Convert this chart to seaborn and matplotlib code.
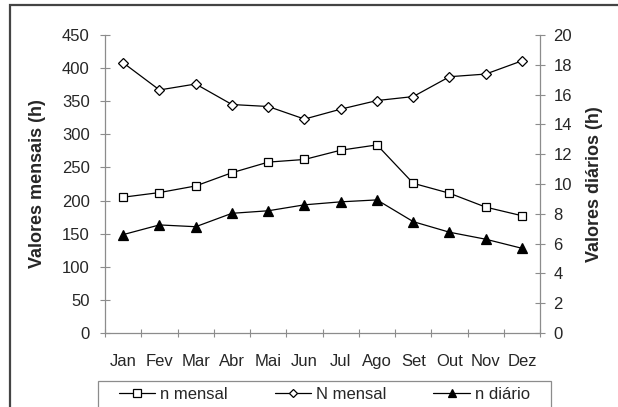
import matplotlib
matplotlib.use("Agg")
import matplotlib.pyplot as plt
import seaborn as sns
import pandas as pd
import numpy as np
from matplotlib.patches import Rectangle
from matplotlib.lines import Line2D

# Monthly sunshine data
meses = ["Jan", "Fev", "Mar", "Abr", "Mai", "Jun", "Jul", "Ago", "Set", "Out", "Nov", "Dez"]
n_mensal = [205, 212, 222, 242, 258, 262, 276, 284, 226, 211, 190, 177]
N_mensal = [408, 367, 376, 345, 342, 323, 338, 351, 357, 387, 391, 411]
n_diario = [6.6, 7.25, 7.13, 8.03, 8.2, 8.6, 8.8, 8.93, 7.47, 6.76, 6.29, 5.68]

sns.set_theme(style="white")
plt.rcParams["font.family"] = ["Liberation Sans", "DejaVu Sans"]

txt = "#262626"
axc = "#8c8c8c"
fs = 12

df = pd.DataFrame({
    "pos": np.arange(len(meses)),
    "mes": meses,
    "n_mensal": n_mensal,
    "N_mensal": N_mensal,
    "n_diario": n_diario,
})

fig = plt.figure(figsize=(6.18, 4.07), dpi=100)
ax = fig.add_axes([0.170, 0.182, 0.704, 0.732])
ax2 = ax.twinx()

line_kw = dict(color="black", linewidth=0.9, markeredgecolor="black",
               markeredgewidth=0.9)
sns.lineplot(data=df, x="pos", y="n_mensal", ax=ax, marker="s", markersize=6,
             markerfacecolor="white", **line_kw)
sns.lineplot(data=df, x="pos", y="N_mensal", ax=ax, marker="D", markersize=5,
             markerfacecolor="white", **line_kw)
sns.lineplot(data=df, x="pos", y="n_diario", ax=ax2, marker="^", markersize=7,
             markerfacecolor="black", **line_kw)

# Scales
ax.set_xlim(-0.5, len(meses) - 0.5)
ax.set_ylim(0, 450)
ax.set_yticks(np.arange(0, 451, 50))
ax2.set_ylim(0, 20)
ax2.set_yticks(np.arange(0, 21, 2))

# Category ticks between months, labels centred under each month
ax.set_xticks(np.arange(-0.5, len(meses), 1.0))
ax.set_xticklabels([])
ax.set_xticks(df["pos"], minor=True)
ax.set_xticklabels(meses, minor=True, fontsize=fs, color=txt)
ax.tick_params(axis="x", which="major", direction="inout", length=6,
               width=0.8, color=axc, bottom=True)
ax.tick_params(axis="x", which="minor", length=0, pad=15)
ax.tick_params(axis="y", direction="inout", length=7, width=0.8, color=axc,
               left=True, labelsize=fs, labelcolor=txt, pad=7.5)
ax2.tick_params(axis="y", direction="inout", length=7, width=0.8, color=axc,
                right=True, labelsize=fs, labelcolor=txt, pad=6)

ax.set_xlabel("")
ax.set_ylabel("Valores mensais (h)", fontsize=13, fontweight="bold", color=txt)
ax.yaxis.set_label_coords(-0.135, 0.5)
ax2.set_ylabel("Valores diários (h)", fontsize=13, fontweight="bold", color=txt,
               rotation=90)
ax2.yaxis.set_label_coords(1.106, 0.5)

for s in ["top", "right"]:
    ax.spines[s].set_visible(False)
for s in ["left", "bottom"]:
    ax.spines[s].set_color(axc)
    ax.spines[s].set_linewidth(0.9)
for s in ["top", "left", "bottom"]:
    ax2.spines[s].set_visible(False)
ax2.spines["right"].set_color(axc)
ax2.spines["right"].set_linewidth(0.9)
ax.grid(False)
ax2.grid(False)

# Legend (entries) with a square box drawn around them
handles = [
    Line2D([], [], marker="s", markersize=6, markerfacecolor="white", **line_kw),
    Line2D([], [], marker="D", markersize=4, markerfacecolor="white", **line_kw),
    Line2D([], [], marker="^", markersize=6, markerfacecolor="black", **line_kw),
]
labels = ["n mensal", "N mensal", "n diário"]
leg = fig.legend(handles, labels, loc="center", ncol=3,
                 bbox_to_anchor=(0.525, 0.03), frameon=False,
                 fontsize=fs, handlelength=2.2, handletextpad=0.3,
                 columnspacing=2.8, borderpad=0.2, labelcolor=txt)
fig.patches.append(Rectangle((98 / 618, -0.2), 453 / 618, 0.2 + 26 / 407,
                             transform=fig.transFigure, fill=False,
                             edgecolor="#8c8c8c", linewidth=0.9))

# Outer frame
fig.patches.append(Rectangle((10 / 618, -0.2), 1.2, 1.2 - 5 / 407,
                             transform=fig.transFigure, fill=False,
                             edgecolor="#444444", linewidth=1.6))

fig.savefig("out.png", dpi=100, facecolor="white")
